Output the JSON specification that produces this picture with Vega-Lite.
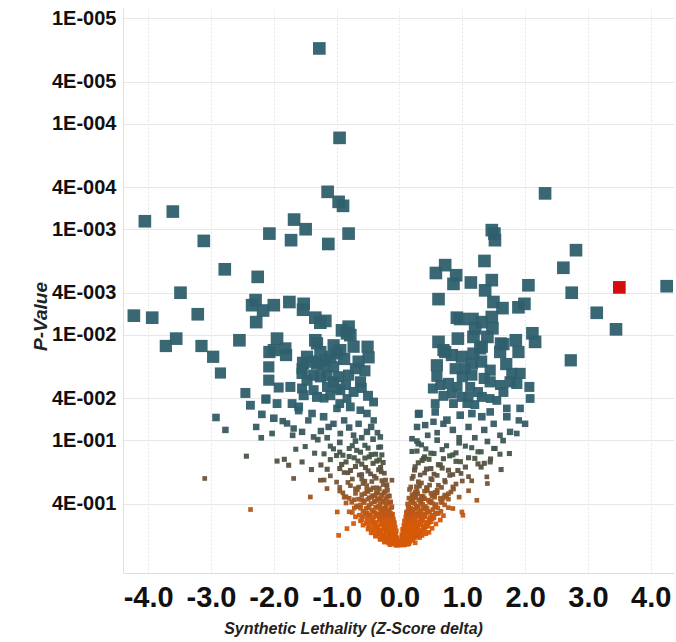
{
"$schema":"https://vega.github.io/schema/vega-lite/v6.json",
"width":551,"height":565,
"autosize":{"type":"none"},
"padding":{"left":123,"top":8,"right":2,"bottom":69},
"background":"white",
"config":{"view":{"stroke":null},"font":"Liberation Sans"},
"data":{"values":[
{"z":-0.08,"p":0.96},{"z":-0.04,"p":0.995},{"z":-0.01,"p":0.98},{"z":0.01,"p":0.99},{"z":0.04,"p":0.95},{"z":0.07,"p":0.985},
{"z":-0.2,"p":0.92},{"z":-0.15,"p":0.98},{"z":-0.1,"p":0.94},{"z":-0.06,"p":0.988},{"z":-0.03,"p":0.912},{"z":0.02,"p":0.969},{"z":0.05,"p":0.931},{"z":0.08,"p":0.983},{"z":0.11,"p":0.917},{"z":0.15,"p":0.96},
{"z":-0.17,"p":0.949},{"z":-0.13,"p":0.911},{"z":-0.09,"p":0.963},{"z":-0.045,"p":0.897},{"z":-0.015,"p":0.939},{"z":0.025,"p":0.907},{"z":0.055,"p":0.953},{"z":0.09,"p":0.916},{"z":0.13,"p":0.972},{"z":0.18,"p":0.888},
{"z":-0.3,"p":0.873},{"z":-0.24,"p":0.927},{"z":-0.19,"p":0.891},{"z":-0.14,"p":0.936},{"z":-0.1,"p":0.864},{"z":-0.06,"p":0.918},{"z":-0.03,"p":0.882},{"z":0.03,"p":0.932},{"z":0.06,"p":0.869},{"z":0.09,"p":0.909},{"z":0.12,"p":0.878},{"z":0.16,"p":0.923},{"z":0.2,"p":0.887},{"z":0.25,"p":0.941},
{"z":-0.24,"p":0.887},{"z":-0.19,"p":0.853},{"z":-0.15,"p":0.9},{"z":-0.11,"p":0.84},{"z":-0.07,"p":0.879},{"z":-0.04,"p":0.848},{"z":0.04,"p":0.892},{"z":0.07,"p":0.857},{"z":0.11,"p":0.909},{"z":0.15,"p":0.831},{"z":0.19,"p":0.87},{"z":0.23,"p":0.844},
{"z":-0.38,"p":0.815},{"z":-0.31,"p":0.865},{"z":-0.25,"p":0.832},{"z":-0.2,"p":0.874},{"z":-0.16,"p":0.806},{"z":-0.12,"p":0.857},{"z":-0.08,"p":0.823},{"z":-0.05,"p":0.869},{"z":0.04,"p":0.811},{"z":0.07,"p":0.848},{"z":0.1,"p":0.819},{"z":0.13,"p":0.861},{"z":0.17,"p":0.827},{"z":0.21,"p":0.878},{"z":0.26,"p":0.802},{"z":0.32,"p":0.84},
{"z":-0.3,"p":0.826},{"z":-0.25,"p":0.794},{"z":-0.2,"p":0.838},{"z":-0.16,"p":0.782},{"z":-0.12,"p":0.818},{"z":-0.08,"p":0.79},{"z":-0.05,"p":0.83},{"z":0.05,"p":0.798},{"z":0.08,"p":0.846},{"z":0.12,"p":0.774},{"z":0.16,"p":0.81},{"z":0.2,"p":0.786},{"z":0.25,"p":0.834},{"z":0.3,"p":0.802},
{"z":-0.968,"p":0.8},
{"z":-0.45,"p":0.757},{"z":-0.38,"p":0.803},{"z":-0.32,"p":0.772},{"z":-0.26,"p":0.811},{"z":-0.21,"p":0.749},{"z":-0.17,"p":0.796},{"z":-0.13,"p":0.764},{"z":-0.09,"p":0.807},{"z":-0.06,"p":0.753},{"z":0.04,"p":0.788},{"z":0.07,"p":0.761},{"z":0.1,"p":0.8},{"z":0.13,"p":0.768},{"z":0.17,"p":0.815},{"z":0.21,"p":0.745},{"z":0.25,"p":0.78},{"z":0.3,"p":0.757},{"z":0.36,"p":0.803},{"z":0.42,"p":0.772},
{"z":-0.36,"p":0.765},{"z":-0.3,"p":0.735},{"z":-0.25,"p":0.776},{"z":-0.2,"p":0.724},{"z":-0.16,"p":0.758},{"z":-0.12,"p":0.731},{"z":-0.08,"p":0.769},{"z":0.06,"p":0.739},{"z":0.1,"p":0.784},{"z":0.14,"p":0.716},{"z":0.18,"p":0.75},{"z":0.23,"p":0.728},{"z":0.28,"p":0.773},{"z":0.34,"p":0.743},
{"z":-0.5,"p":0.698},{"z":-0.42,"p":0.742},{"z":-0.36,"p":0.713},{"z":-0.3,"p":0.749},{"z":-0.25,"p":0.691},{"z":-0.2,"p":0.734},{"z":-0.16,"p":0.706},{"z":-0.12,"p":0.745},{"z":-0.08,"p":0.695},{"z":-0.05,"p":0.727},{"z":0.05,"p":0.702},{"z":0.09,"p":0.738},{"z":0.12,"p":0.709},{"z":0.16,"p":0.752},{"z":0.2,"p":0.688},{"z":0.24,"p":0.72},{"z":0.29,"p":0.698},{"z":0.34,"p":0.742},{"z":0.4,"p":0.713},{"z":0.47,"p":0.749},
{"z":-0.835,"p":0.69},{"z":-0.42,"p":0.704},{"z":-0.35,"p":0.676},{"z":-0.29,"p":0.714},{"z":-0.24,"p":0.666},{"z":-0.19,"p":0.697},{"z":-0.15,"p":0.673},{"z":-0.11,"p":0.707},{"z":-0.07,"p":0.68},{"z":0.07,"p":0.721},{"z":0.11,"p":0.659},{"z":0.15,"p":0.69},{"z":0.19,"p":0.669},{"z":0.24,"p":0.711},{"z":0.29,"p":0.683},{"z":0.35,"p":0.718},{"z":0.42,"p":0.662},
{"z":-0.58,"p":0.64},{"z":-0.49,"p":0.68},{"z":-0.41,"p":0.653},{"z":-0.35,"p":0.686},{"z":-0.29,"p":0.634},{"z":-0.23,"p":0.673},{"z":-0.18,"p":0.647},{"z":-0.14,"p":0.683},{"z":-0.1,"p":0.637},{"z":-0.07,"p":0.667},{"z":0.07,"p":0.644},{"z":0.1,"p":0.677},{"z":0.14,"p":0.65},{"z":0.18,"p":0.69},{"z":0.22,"p":0.63},{"z":0.27,"p":0.66},{"z":0.32,"p":0.64},{"z":0.38,"p":0.68},{"z":0.45,"p":0.653},{"z":0.52,"p":0.686},
{"z":-0.48,"p":0.643},{"z":-0.4,"p":0.617},{"z":-0.34,"p":0.652},{"z":-0.28,"p":0.608},{"z":-0.23,"p":0.636},{"z":-0.18,"p":0.614},{"z":-0.13,"p":0.646},{"z":-0.09,"p":0.621},{"z":0.09,"p":0.658},{"z":0.13,"p":0.602},{"z":0.18,"p":0.63},{"z":0.23,"p":0.611},{"z":0.28,"p":0.649},{"z":0.34,"p":0.624},{"z":0.4,"p":0.655},{"z":0.47,"p":0.605},
{"z":-0.73,"p":0.618},
{"z":-0.62,"p":0.582},{"z":-0.53,"p":0.618},{"z":-0.45,"p":0.594},{"z":-0.38,"p":0.624},{"z":-0.32,"p":0.576},{"z":-0.26,"p":0.612},{"z":-0.21,"p":0.588},{"z":-0.16,"p":0.621},{"z":-0.12,"p":0.579},{"z":-0.08,"p":0.606},{"z":0.08,"p":0.585},{"z":0.12,"p":0.615},{"z":0.16,"p":0.591},{"z":0.2,"p":0.627},{"z":0.25,"p":0.573},{"z":0.3,"p":0.6},{"z":0.36,"p":0.582},{"z":0.42,"p":0.618},{"z":0.5,"p":0.594},{"z":0.58,"p":0.624},
{"z":-0.52,"p":0.592},{"z":-0.44,"p":0.568},{"z":-0.37,"p":0.6},{"z":-0.31,"p":0.56},{"z":-0.25,"p":0.586},{"z":-0.2,"p":0.566},{"z":-0.15,"p":0.595},{"z":-0.1,"p":0.571},{"z":0.1,"p":0.606},{"z":0.15,"p":0.554},{"z":0.2,"p":0.58},{"z":0.25,"p":0.563},{"z":0.31,"p":0.597},{"z":0.37,"p":0.574},{"z":0.44,"p":0.603},{"z":0.52,"p":0.557},
{"z":-0.7,"p":0.534},{"z":-0.6,"p":0.567},{"z":-0.51,"p":0.545},{"z":-0.43,"p":0.572},{"z":-0.36,"p":0.528},{"z":-0.3,"p":0.561},{"z":-0.24,"p":0.539},{"z":-0.19,"p":0.569},{"z":-0.14,"p":0.531},{"z":-0.1,"p":0.556},{"z":0.1,"p":0.536},{"z":0.14,"p":0.564},{"z":0.18,"p":0.542},{"z":0.23,"p":0.575},{"z":0.28,"p":0.525},{"z":0.34,"p":0.55},{"z":0.4,"p":0.534},{"z":0.47,"p":0.567},{"z":0.55,"p":0.545},{"z":0.65,"p":0.572},
{"z":-0.58,"p":0.53},{"z":-0.49,"p":0.51},{"z":-0.41,"p":0.538},{"z":-0.34,"p":0.502},{"z":-0.28,"p":0.525},{"z":-0.22,"p":0.507},{"z":-0.17,"p":0.533},{"z":-0.12,"p":0.512},{"z":0.12,"p":0.543},{"z":0.17,"p":0.497},{"z":0.22,"p":0.52},{"z":0.28,"p":0.504},{"z":0.34,"p":0.536},{"z":0.41,"p":0.515},{"z":0.49,"p":0.541},{"z":0.57,"p":0.499},{"z":1.01,"p":0.516},
{"z":-0.75,"p":0.485},{"z":-0.64,"p":0.515},{"z":-0.55,"p":0.495},{"z":-0.47,"p":0.52},{"z":-0.4,"p":0.48},{"z":-0.33,"p":0.51},{"z":-0.27,"p":0.49},{"z":-0.21,"p":0.518},{"z":-0.16,"p":0.483},{"z":-0.11,"p":0.505},{"z":0.11,"p":0.488},{"z":0.15,"p":0.513},{"z":0.2,"p":0.493},{"z":0.25,"p":0.523},{"z":0.31,"p":0.478},{"z":0.37,"p":0.5},{"z":0.44,"p":0.485},{"z":0.52,"p":0.515},{"z":0.6,"p":0.495},{"z":0.7,"p":0.52},
{"z":-0.99,"p":0.48},{"z":0.994,"p":0.48},
{"z":-0.62,"p":0.442},{"z":-0.52,"p":0.494},{"z":-0.44,"p":0.461},{"z":-0.37,"p":0.498},{"z":-0.31,"p":0.447},{"z":-0.25,"p":0.484},{"z":-0.19,"p":0.456},{"z":-0.14,"p":0.494},{"z":0.14,"p":0.442},{"z":0.19,"p":0.489},{"z":0.25,"p":0.451},{"z":0.31,"p":0.498},{"z":0.38,"p":0.447},{"z":0.45,"p":0.479},{"z":0.53,"p":0.456},{"z":0.62,"p":0.494},
{"z":-2.37,"p":0.455},{"z":-0.8,"p":0.478},{"z":-0.68,"p":0.428},{"z":-0.58,"p":0.473},{"z":-0.5,"p":0.437},{"z":-0.42,"p":0.482},{"z":-0.35,"p":0.432},{"z":-0.29,"p":0.464},{"z":-0.23,"p":0.441},{"z":-0.17,"p":0.478},{"z":-0.12,"p":0.428},{"z":0.12,"p":0.478},{"z":0.17,"p":0.446},{"z":0.22,"p":0.482},{"z":0.28,"p":0.432},{"z":0.34,"p":0.469},{"z":0.41,"p":0.441},{"z":0.48,"p":0.478},{"z":0.56,"p":0.428},{"z":0.66,"p":0.473},{"z":0.78,"p":0.437},
{"z":-0.85,"p":0.395},{"z":-0.72,"p":0.441},{"z":-0.62,"p":0.412},{"z":-0.53,"p":0.445},{"z":-0.45,"p":0.399},{"z":-0.38,"p":0.433},{"z":-0.31,"p":0.407},{"z":-0.25,"p":0.441},{"z":-0.19,"p":0.395},{"z":-0.13,"p":0.437},{"z":0.13,"p":0.403},{"z":0.18,"p":0.445},{"z":0.24,"p":0.399},{"z":0.3,"p":0.428},{"z":0.37,"p":0.407},{"z":0.44,"p":0.441},{"z":0.52,"p":0.395},{"z":0.61,"p":0.441},{"z":0.72,"p":0.412},{"z":0.85,"p":0.445},
{"z":-0.68,"p":0.42},{"z":-0.57,"p":0.376},{"z":-0.48,"p":0.416},{"z":-0.4,"p":0.384},{"z":-0.33,"p":0.424},{"z":-0.27,"p":0.38},{"z":-0.21,"p":0.412},{"z":-0.15,"p":0.388},{"z":0.15,"p":0.42},{"z":0.21,"p":0.376},{"z":0.27,"p":0.42},{"z":0.34,"p":0.392},{"z":0.41,"p":0.424},{"z":0.5,"p":0.38},{"z":0.58,"p":0.408},{"z":0.68,"p":0.388},
{"z":-0.88,"p":0.348},{"z":-0.76,"p":0.389},{"z":-0.65,"p":0.363},{"z":-0.56,"p":0.392},{"z":-0.48,"p":0.352},{"z":-0.4,"p":0.381},{"z":-0.33,"p":0.359},{"z":-0.26,"p":0.389},{"z":-0.2,"p":0.348},{"z":-0.14,"p":0.385},{"z":0.15,"p":0.355},{"z":0.2,"p":0.392},{"z":0.26,"p":0.352},{"z":0.33,"p":0.377},{"z":0.4,"p":0.359},{"z":0.48,"p":0.389},{"z":0.56,"p":0.348},{"z":0.66,"p":0.389},{"z":0.78,"p":0.363},{"z":1.232,"p":0.372},
{"z":-0.72,"p":0.368},{"z":-0.6,"p":0.329},{"z":-0.5,"p":0.364},{"z":-0.42,"p":0.336},{"z":-0.35,"p":0.371},{"z":-0.28,"p":0.333},{"z":-0.22,"p":0.361},{"z":-0.16,"p":0.34},{"z":0.18,"p":0.368},{"z":0.24,"p":0.329},{"z":0.31,"p":0.368},{"z":0.38,"p":0.343},{"z":0.46,"p":0.371},{"z":0.55,"p":0.333},{"z":0.65,"p":0.357},{"z":0.75,"p":0.34},
{"z":-1.418,"p":0.346},
{"z":-0.95,"p":0.304},{"z":-0.8,"p":0.356},{"z":-0.7,"p":0.32},{"z":-0.6,"p":0.366},{"z":-0.52,"p":0.297},{"z":-0.44,"p":0.343},{"z":-0.37,"p":0.314},{"z":-0.3,"p":0.36},{"z":-0.23,"p":0.307},{"z":-0.17,"p":0.337},{"z":0.16,"p":0.294},{"z":0.22,"p":0.35},{"z":0.29,"p":0.323},{"z":0.36,"p":0.363},{"z":0.44,"p":0.3},{"z":0.52,"p":0.34},{"z":0.6,"p":0.317},{"z":0.7,"p":0.353},{"z":0.82,"p":0.31},{"z":0.95,"p":0.347},
{"z":-0.85,"p":0.344},{"z":-0.65,"p":0.279},{"z":-0.55,"p":0.322},{"z":-0.46,"p":0.295},{"z":-0.39,"p":0.338},{"z":-0.32,"p":0.288},{"z":-0.25,"p":0.316},{"z":-0.2,"p":0.276},{"z":0.2,"p":0.329},{"z":0.28,"p":0.304},{"z":0.35,"p":0.341},{"z":0.43,"p":0.282},{"z":0.5,"p":0.319},{"z":0.6,"p":0.298},{"z":0.72,"p":0.332},{"z":0.86,"p":0.291},
{"z":-1.153,"p":0.288},{"z":-0.9,"p":0.316},{"z":-0.78,"p":0.27},{"z":-0.67,"p":0.296},{"z":-0.58,"p":0.258},{"z":-0.5,"p":0.307},{"z":-0.42,"p":0.284},{"z":-0.34,"p":0.319},{"z":-0.26,"p":0.264},{"z":-0.19,"p":0.299},{"z":0.18,"p":0.278},{"z":0.25,"p":0.31},{"z":0.32,"p":0.273},{"z":0.4,"p":0.305},{"z":0.48,"p":0.267},{"z":0.57,"p":0.313},{"z":0.67,"p":0.281},{"z":0.78,"p":0.322},{"z":0.9,"p":0.261},{"z":1.1,"p":0.302},
{"z":-1.2,"p":0.239},{"z":-0.95,"p":0.281},{"z":-0.82,"p":0.252},{"z":-0.7,"p":0.289},{"z":-0.6,"p":0.234},{"z":-0.52,"p":0.27},{"z":-0.44,"p":0.247},{"z":-0.36,"p":0.283},{"z":-0.28,"p":0.242},{"z":-0.2,"p":0.265},{"z":0.2,"p":0.231},{"z":0.27,"p":0.276},{"z":0.35,"p":0.255},{"z":0.44,"p":0.286},{"z":0.52,"p":0.237},{"z":0.62,"p":0.268},{"z":0.73,"p":0.25},{"z":0.85,"p":0.278},{"z":1.0,"p":0.244},{"z":1.4,"p":0.258},
{"z":-1.259,"p":0.24},{"z":-0.12,"p":0.24},{"z":-1.684,"p":0.231},{"z":-3.099,"p":0.231},
{"z":-1.0,"p":0.25},{"z":-0.88,"p":0.203},{"z":-0.75,"p":0.234},{"z":-0.64,"p":0.214},{"z":-0.55,"p":0.245},{"z":-0.46,"p":0.209},{"z":-0.37,"p":0.23},{"z":-0.29,"p":0.2},{"z":-0.22,"p":0.239},{"z":0.22,"p":0.22},{"z":0.3,"p":0.248},{"z":0.4,"p":0.205},{"z":0.5,"p":0.232},{"z":0.6,"p":0.216},{"z":0.72,"p":0.241},{"z":0.85,"p":0.212},{"z":0.98,"p":0.207},{"z":1.15,"p":0.243},{"z":1.391,"p":0.223},
{"z":-1.4,"p":0.19},{"z":-1.1,"p":0.218},{"z":-0.95,"p":0.186},{"z":-0.82,"p":0.204},{"z":-0.7,"p":0.178},{"z":-0.6,"p":0.212},{"z":-0.5,"p":0.196},{"z":-0.4,"p":0.22},{"z":-0.3,"p":0.182},{"z":-0.24,"p":0.206},{"z":0.24,"p":0.192},{"z":0.33,"p":0.214},{"z":0.43,"p":0.188},{"z":0.55,"p":0.21},{"z":0.68,"p":0.184},{"z":0.8,"p":0.216},{"z":0.93,"p":0.194},{"z":1.1,"p":0.222},{"z":1.3,"p":0.18},
{"z":1.618,"p":0.19},
{"z":-1.763,"p":0.173},{"z":-1.55,"p":0.161},{"z":-1.15,"p":0.189},{"z":-0.92,"p":0.17},{"z":-0.78,"p":0.194},{"z":-0.66,"p":0.158},{"z":-0.54,"p":0.182},{"z":-0.42,"p":0.166},{"z":-0.33,"p":0.191},{"z":-0.26,"p":0.163},{"z":0.25,"p":0.179},{"z":0.36,"p":0.156},{"z":0.5,"p":0.186},{"z":0.65,"p":0.172},{"z":0.78,"p":0.193},{"z":0.9,"p":0.159},{"z":1.05,"p":0.18},{"z":1.25,"p":0.168},
{"z":-1.948,"p":0.158},{"z":-1.832,"p":0.152},{"z":1.444,"p":0.161},
{"z":-1.25,"p":0.172},{"z":-1.0,"p":0.14},{"z":-0.85,"p":0.161},{"z":-0.72,"p":0.147},{"z":-0.6,"p":0.169},{"z":-0.48,"p":0.144},{"z":-0.36,"p":0.158},{"z":-0.28,"p":0.138},{"z":0.3,"p":0.164},{"z":0.47,"p":0.152},{"z":0.62,"p":0.171},{"z":0.8,"p":0.141},{"z":0.97,"p":0.16},{"z":1.2,"p":0.149},{"z":1.35,"p":0.166},
{"z":0.383,"p":0.15},{"z":-2.436,"p":0.142},
{"z":-1.35,"p":0.133},{"z":-1.1,"p":0.153},{"z":-0.95,"p":0.13},{"z":-0.8,"p":0.143},{"z":-0.68,"p":0.125},{"z":-0.55,"p":0.148},{"z":-0.45,"p":0.137},{"z":-0.32,"p":0.154},{"z":0.28,"p":0.127},{"z":0.4,"p":0.144},{"z":0.55,"p":0.134},{"z":0.7,"p":0.15},{"z":0.9,"p":0.132},{"z":1.1,"p":0.147},{"z":1.25,"p":0.129},{"z":1.45,"p":0.151},{"z":1.6,"p":0.136},
{"z":-1.5,"p":0.115},{"z":-1.2,"p":0.135},{"z":-1.05,"p":0.121},{"z":-0.9,"p":0.139},{"z":-0.75,"p":0.113},{"z":-0.62,"p":0.13},{"z":-0.5,"p":0.119},{"z":-0.38,"p":0.136},{"z":-0.3,"p":0.116},{"z":0.2,"p":0.128},{"z":0.35,"p":0.111},{"z":0.5,"p":0.133},{"z":0.68,"p":0.123},{"z":0.85,"p":0.138},{"z":1.05,"p":0.114},{"z":1.3,"p":0.129},{"z":1.5,"p":0.12},{"z":1.75,"p":0.134},
{"z":1.523,"p":0.12},
{"z":-1.65,"p":0.122},{"z":-1.3,"p":0.099},{"z":-1.1,"p":0.114},{"z":-0.95,"p":0.105},{"z":-0.8,"p":0.12},{"z":-0.7,"p":0.102},{"z":-0.55,"p":0.112},{"z":-0.42,"p":0.098},{"z":-0.33,"p":0.117},{"z":0.3,"p":0.108},{"z":0.42,"p":0.121},{"z":0.6,"p":0.1},{"z":0.75,"p":0.113},{"z":0.95,"p":0.106},{"z":1.15,"p":0.118},{"z":1.4,"p":0.103},{"z":1.65,"p":0.101},
{"z":-1.391,"p":0.0559},{"z":-1.207,"p":0.06},{"z":-0.994,"p":0.05},{"z":-0.782,"p":0.0484},{"z":-0.623,"p":0.052},{"z":-0.517,"p":0.0559},{"z":-2.92,"p":0.061},{"z":-2.19,"p":0.057},{"z":-2.28,"p":0.075},{"z":-2.77,"p":0.08},{"z":-2.027,"p":0.0865},{"z":-1.789,"p":0.0695},{"z":-1.684,"p":0.0776},{"z":-1.55,"p":0.0835},{"z":-1.366,"p":0.0933},{"z":-1.127,"p":0.075},{"z":-0.941,"p":0.0865},{"z":-0.73,"p":0.0898},{"z":-0.517,"p":0.0835},{"z":-0.305,"p":0.0933},{"z":-1.858,"p":0.066},{"z":-2.0,"p":0.062},{"z":-1.604,"p":0.0525},{"z":-0.41,"p":0.065},{"z":-0.45,"p":0.075},{"z":-0.35,"p":0.085},{"z":-0.88,"p":0.065},{"z":-1.05,"p":0.07},{"z":-1.25,"p":0.082},{"z":-0.65,"p":0.07},{"z":-1.45,"p":0.065},{"z":-0.8,"p":0.076},{"z":-1.7,"p":0.09},{"z":-0.6,"p":0.095},{"z":-1.15,"p":0.095},{"z":-2.2,"p":0.095},
{"z":0.31,"p":0.0559},{"z":0.569,"p":0.054},{"z":0.304,"p":0.0567},{"z":0.41,"p":0.072},{"z":0.542,"p":0.067},{"z":0.755,"p":0.0646},{"z":0.967,"p":0.058},{"z":1.153,"p":0.056},{"z":1.311,"p":0.06},{"z":1.444,"p":0.054},{"z":1.709,"p":0.06},{"z":1.868,"p":0.0865},{"z":1.761,"p":0.0835},{"z":1.6,"p":0.09},{"z":1.35,"p":0.08},{"z":1.1,"p":0.075},{"z":0.85,"p":0.08},{"z":0.6,"p":0.085},{"z":0.45,"p":0.09},{"z":0.28,"p":0.075},{"z":0.2,"p":0.097},{"z":0.278,"p":0.102},{"z":1.9,"p":0.065},{"z":2.0,"p":0.07},{"z":1.2,"p":0.095},{"z":0.95,"p":0.095},{"z":0.7,"p":0.07},{"z":1.5,"p":0.07},
{"z":-1.275,"p":0.0000193},{"z":-0.953,"p":0.000136},{"z":-1.143,"p":0.000442},{"z":-0.968,"p":0.00055},{"z":-0.898,"p":0.0006},{"z":-4.052,"p":0.00084},{"z":-3.607,"p":0.00068},{"z":-3.114,"p":0.00129},{"z":-2.07,"p":0.0011},{"z":-1.677,"p":0.00081},{"z":-1.725,"p":0.00127},{"z":-1.493,"p":0.001},{"z":-1.132,"p":0.00138},{"z":-0.809,"p":0.0011},{"z":-2.78,"p":0.0024},{"z":-2.256,"p":0.00283},{"z":-3.485,"p":0.004},{"z":-4.227,"p":0.0066},{"z":-3.935,"p":0.0069},{"z":-3.21,"p":0.0064},{"z":-2.29,"p":0.0047},{"z":-2.345,"p":0.00525},{"z":-2.17,"p":0.0059},{"z":-2.28,"p":0.0076},{"z":-3.553,"p":0.0109},{"z":-3.718,"p":0.0128},{"z":-3.151,"p":0.0128},{"z":-2.965,"p":0.0162},{"z":-2.849,"p":0.0231},{"z":-2.547,"p":0.0113},{"z":-2.07,"p":0.0146},{"z":-2.08,"p":0.0202},{"z":-2.08,"p":0.027},{"z":-2.452,"p":0.0357},{"z":-2.372,"p":0.0467},{"z":-2.128,"p":0.041},{"z":-2.0,"p":0.00525},{"z":-1.752,"p":0.0049},{"z":-1.524,"p":0.0051},{"z":-1.534,"p":0.0058},{"z":-1.339,"p":0.0069},{"z":-1.259,"p":0.0077},{"z":-1.18,"p":0.0074},{"z":-0.914,"p":0.0091},{"z":-0.809,"p":0.0084},{"z":-0.782,"p":0.0101},{"z":-0.835,"p":0.0097},{"z":-1.948,"p":0.0109},{"z":-2.0,"p":0.014},{"z":-1.816,"p":0.0135},{"z":-1.805,"p":0.0156},{"z":-1.922,"p":0.0317},{"z":-1.736,"p":0.0313},{"z":-1.534,"p":0.0185},{"z":-1.471,"p":0.0162},{"z":-1.55,"p":0.021},{"z":-1.312,"p":0.0188},{"z":-1.18,"p":0.0175},{"z":-1.048,"p":0.0202},{"z":-1.312,"p":0.0121},{"z":-1.048,"p":0.0126},{"z":-0.941,"p":0.014},{"z":-0.73,"p":0.013},{"z":-0.507,"p":0.013},{"z":-0.491,"p":0.0164},{"z":-0.65,"p":0.018},{"z":-0.809,"p":0.0242},{"z":-0.968,"p":0.0251},{"z":-1.259,"p":0.0251},{"z":-1.471,"p":0.027},{"z":-1.55,"p":0.0324},{"z":-1.366,"p":0.0336},{"z":-1.153,"p":0.0313},{"z":-0.941,"p":0.0336},{"z":-0.73,"p":0.0349},{"z":-0.412,"p":0.0435},{"z":-2.123,"p":0.0406},{"z":-1.948,"p":0.045},{"z":-1.709,"p":0.045},{"z":-1.604,"p":0.0484},{"z":-1.339,"p":0.0113},{"z":-1.259,"p":0.0146},{"z":-1.1,"p":0.0162},{"z":-1.391,"p":0.018},{"z":-1.207,"p":0.0195},{"z":-1.55,"p":0.0233},{"z":-1.366,"p":0.0242},{"z":-1.153,"p":0.0245},{"z":-0.994,"p":0.0324},{"z":-1.524,"p":0.0375},{"z":-1.312,"p":0.0389},{"z":-1.1,"p":0.0375},{"z":-0.835,"p":0.0403},{"z":-0.62,"p":0.028},{"z":-0.55,"p":0.022},{"z":-0.88,"p":0.017},{"z":-1.0,"p":0.015},{"z":-0.7,"p":0.021},{"z":-0.6,"p":0.032},{"z":-0.5,"p":0.038},{"z":-1.05,"p":0.028},{"z":-0.85,"p":0.03},{"z":-1.2,"p":0.04},{"z":-0.95,"p":0.045},
{"z":2.318,"p":0.000457},{"z":1.47,"p":0.00102},{"z":1.512,"p":0.0011},{"z":1.52,"p":0.00127},{"z":2.81,"p":0.00158},{"z":2.609,"p":0.00232},{"z":1.353,"p":0.002},{"z":0.728,"p":0.00219},{"z":0.58,"p":0.0026},{"z":0.903,"p":0.00273},{"z":0.86,"p":0.0033},{"z":1.137,"p":0.0032},{"z":1.47,"p":0.00304},{"z":1.364,"p":0.0038},{"z":2.053,"p":0.0034},{"z":2.742,"p":0.004},{"z":4.253,"p":0.00347},{"z":0.622,"p":0.0046},{"z":1.496,"p":0.0049},{"z":1.64,"p":0.0056},{"z":1.894,"p":0.0055},{"z":1.989,"p":0.0051},{"z":3.14,"p":0.0062},{"z":3.447,"p":0.0089},{"z":0.914,"p":0.0069},{"z":0.967,"p":0.0071},{"z":1.162,"p":0.0071},{"z":1.311,"p":0.0076},{"z":1.47,"p":0.0068},{"z":1.48,"p":0.0087},{"z":1.205,"p":0.0087},{"z":0.622,"p":0.0117},{"z":0.93,"p":0.0109},{"z":1.178,"p":0.0105},{"z":1.4,"p":0.0105},{"z":1.655,"p":0.0123},{"z":1.614,"p":0.0121},{"z":1.852,"p":0.0113},{"z":2.116,"p":0.0097},{"z":2.159,"p":0.0117},{"z":1.894,"p":0.0146},{"z":0.728,"p":0.0146},{"z":0.701,"p":0.014},{"z":0.835,"p":0.0156},{"z":0.994,"p":0.0162},{"z":1.178,"p":0.0151},{"z":1.285,"p":0.0135},{"z":1.311,"p":0.013},{"z":1.603,"p":0.0146},{"z":2.727,"p":0.0175},{"z":0.596,"p":0.0195},{"z":0.887,"p":0.021},{"z":1.046,"p":0.021},{"z":1.153,"p":0.0188},{"z":1.444,"p":0.0217},{"z":1.789,"p":0.0233},{"z":1.92,"p":0.0233},{"z":0.596,"p":0.0248},{"z":1.153,"p":0.0242},{"z":0.78,"p":0.029},{"z":0.924,"p":0.0313},{"z":1.126,"p":0.0313},{"z":1.444,"p":0.028},{"z":1.761,"p":0.028},{"z":1.868,"p":0.029},{"z":2.068,"p":0.0313},{"z":2.08,"p":0.0403},{"z":0.532,"p":0.0324},{"z":0.835,"p":0.0361},{"z":0.994,"p":0.0389},{"z":1.099,"p":0.0389},{"z":1.311,"p":0.0389},{"z":1.444,"p":0.0403},{"z":1.655,"p":0.0349},{"z":0.86,"p":0.045},{"z":1.073,"p":0.045},{"z":0.569,"p":0.045},{"z":1.709,"p":0.05},{"z":1.92,"p":0.05},{"z":1.25,"p":0.035},{"z":1.35,"p":0.026},{"z":1.6,"p":0.03},{"z":1.55,"p":0.042},{"z":1.2,"p":0.046},{"z":0.7,"p":0.038},{"z":0.65,"p":0.03},{"z":1.0,"p":0.025},{"z":1.3,"p":0.018},{"z":1.7,"p":0.019},
{"z":3.5,"p":0.00356,"hit":1}
]},
"mark":{"type":"square","opacity":0.95},
"encoding":{
"x":{"field":"z","type":"quantitative","scale":{"domain":[-4.4,4.37],"nice":false,"zero":false},
"axis":{"values":[-4,-3,-2,-1,0,1,2,3,4],"labelExpr":"(datum.value < 0 ? '-' : '') + format(abs(datum.value), '.1f')","labelFont":"Liberation Sans","labelFontWeight":"bold","labelFontSize":29,"labelColor":"#111111","labelPadding":10,"ticks":false,"tickSize":0,"domainColor":"#dddddd","gridColor":"#e6e6e6","gridDash":[2,2],"title":"Synthetic Lethality (Z-Score delta)","titleFont":"Liberation Sans","titleFontSize":16,"titleFontWeight":"bold","titleFontStyle":"italic","titleColor":"#222222","titleX":230,"titleY":60,"titleAlign":"center","titleBaseline":"alphabetic","labelFlush":false}},
"y":{"field":"p","type":"quantitative","scale":{"type":"log","domain":[0.00000798,1.82],"reverse":true,"nice":false},
"axis":{"values":[0.00001,0.00004,0.0001,0.0004,0.001,0.004,0.01,0.04,0.1,0.4],"labelExpr":"format(datum.value / pow(10, floor(log(datum.value) / LN10 + 1e-9)), '.0f') + 'E-' + pad(toString(-floor(log(datum.value) / LN10 + 1e-9)), 3, '0', 'left')","labelFont":"Liberation Sans","labelFontWeight":"bold","labelFontSize":20,"labelColor":"#111111","labelPadding":7,"ticks":false,"tickSize":0,"domainColor":"#e0e0e0","gridColor":"#e8e8e8","title":"P-Value","titleFont":"Liberation Sans","titleFontSize":19,"titleFontWeight":"bold","titleFontStyle":"italic","titleColor":"#222222","titleX":-77,"titleY":308,"titleAngle":-90,"titleAlign":"center","titleBaseline":"alphabetic","labelFlush":false}},
"color":{"condition":{"test":"datum.hit === 1","value":"#d30000"},"field":"p","type":"quantitative","scale":{"type":"log","domain":[0.05,0.1,0.2,0.35,0.6],"range":["#2f5f6d","#3e5659","#5f5040","#9c5523","#d65a08"],"clamp":true},"legend":null},
"size":{"field":"p","type":"quantitative","scale":{"type":"threshold","domain":[0.012,0.02,0.03,0.04,0.05,0.065,0.085,0.11,0.2],"range":[160,150,125,100,78,58,42,32,26,22]},"legend":null}
}
}
